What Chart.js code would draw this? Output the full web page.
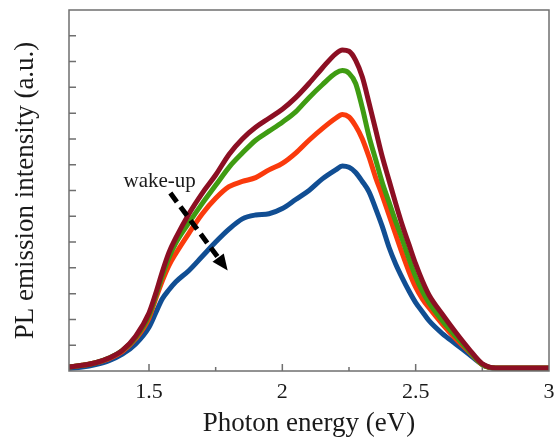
<!DOCTYPE html>
<html>
<head>
<meta charset="utf-8">
<script src="https://cdn.jsdelivr.net/npm/chart.js@4/dist/chart.umd.min.js"></script>
<style>
  html, body { margin: 0; padding: 0; background: #fff; }
  #wrap { width: 555px; height: 437px; }
</style>
</head>
<body>
<div id="wrap"><canvas id="myChart"></canvas></div>
<script>
// photon energy (eV)
var energy = [1.2, 1.25, 1.3, 1.35, 1.4, 1.45, 1.5, 1.525, 1.55, 1.575,
              1.6, 1.65, 1.7, 1.75, 1.8, 1.85, 1.9, 1.95, 2.0,
              2.05, 2.1, 2.15, 2.2, 2.225, 2.25, 2.275, 2.3,
              2.325, 2.35, 2.375, 2.4, 2.425, 2.45, 2.475, 2.5, 2.525, 2.55,
              2.6, 2.65, 2.7, 2.75, 2.8, 2.85, 2.9, 2.95, 3.0];

// PL intensity (a.u.) for each stage
var wine = [0.15, 0.22, 0.32, 0.5, 0.8, 1.35, 2.25, 3.0, 3.85, 4.6,
            5.15, 6.1, 6.9, 7.6, 8.4, 9.0, 9.45, 9.8, 10.15,
            10.6, 11.15, 11.75, 12.3, 12.45, 12.4, 12.05, 11.4,
            10.4, 9.35, 8.3, 7.4, 6.5, 5.65, 4.9, 4.15, 3.5, 2.95,
            2.2, 1.5, 0.85, 0.28, 0.12, 0.12, 0.12, 0.12, 0.12];
var green = [0.15, 0.22, 0.32, 0.5, 0.8, 1.3, 2.15, 2.9, 3.7, 4.4,
             4.95, 5.75, 6.5, 7.2, 7.9, 8.45, 8.95, 9.3, 9.65,
             10.05, 10.6, 11.1, 11.55, 11.65, 11.55, 11.15, 10.2,
             9.1, 8.2, 7.3, 6.55, 5.8, 5.1, 4.35, 3.65, 3.1, 2.65,
             1.95, 1.35, 0.78, 0.25, 0.12, 0.12, 0.12, 0.12, 0.12];
var orange = [0.15, 0.22, 0.32, 0.48, 0.76, 1.25, 2.05, 2.8, 3.5, 4.1,
              4.55, 5.35, 6.1, 6.7, 7.15, 7.35, 7.5, 7.8, 8.05,
              8.45, 8.95, 9.4, 9.8, 9.95, 9.85, 9.5, 9.0,
              8.3, 7.5, 6.8, 6.05, 5.3, 4.55, 3.85, 3.25, 2.8, 2.45,
              1.82, 1.25, 0.75, 0.25, 0.12, 0.12, 0.12, 0.12, 0.12];
var blue = [0.1, 0.15, 0.25, 0.4, 0.65, 1.05, 1.7, 2.25, 2.8, 3.15,
            3.45, 3.9, 4.45, 5.0, 5.5, 5.9, 6.05, 6.1, 6.3,
            6.65, 7.0, 7.45, 7.8, 7.95, 7.9, 7.7, 7.35,
            6.95, 6.3, 5.6, 4.8, 4.15, 3.6, 3.1, 2.65, 2.3, 1.95,
            1.45, 1.05, 0.65, 0.25, 0.1, 0.1, 0.1, 0.1, 0.1];

var xTickValues = [1.5, 2, 2.5, 3];
var xMinorTicks = [1.75, 2.25, 2.75];
var yTickValues = [1, 2, 3, 4, 5, 6, 7, 8, 9, 10, 11, 12, 13];

// wake-up label and arrow (data coords)
var wakeLabel = { x: 1.54, y: 7.35, text: 'wake-up' };
var wakeArrow = { x1: 1.58, y1: 6.9, x2: 1.795, y2: 3.9 };

function toPoints(ys) {
    return energy.map(function(e, i) { return { x: e, y: ys[i] }; });
}

function makeSet(label, ys, color) {
    return {
        label: label,
        data: toPoints(ys),
        borderColor: color,
        backgroundColor: color,
        borderWidth: 5,
        pointRadius: 0,
        cubicInterpolationMode: 'monotone',
        fill: false
    };
}

var framePlugin = {
    id: 'frame',
    afterDatasetsDraw: function(chart) {
        var ctx = chart.ctx;
        var a = chart.chartArea;
        var xs = chart.scales.x;
        var ys = chart.scales.y;
        ctx.save();
        ctx.strokeStyle = '#6f6f6f';
        ctx.lineWidth = 1.5;
        ctx.strokeRect(a.left, a.top, a.right - a.left, a.bottom - a.top);

        // inward ticks
        ctx.beginPath();
        xTickValues.forEach(function(v) {
            var px = xs.getPixelForValue(v);
            if (px < a.right - 1) { ctx.moveTo(px, a.bottom); ctx.lineTo(px, a.bottom - 7); }
        });
        xMinorTicks.forEach(function(v) {
            var px = xs.getPixelForValue(v);
            ctx.moveTo(px, a.bottom); ctx.lineTo(px, a.bottom - 4);
        });
        yTickValues.forEach(function(v) {
            var py = ys.getPixelForValue(v);
            ctx.moveTo(a.left, py); ctx.lineTo(a.left + 7, py);
        });
        ctx.stroke();

        // wake-up annotation
        ctx.fillStyle = '#1a1a1a';
        ctx.font = '21px "Liberation Serif"';
        ctx.textAlign = 'center';
        ctx.textBaseline = 'middle';
        ctx.fillText(wakeLabel.text, xs.getPixelForValue(wakeLabel.x), ys.getPixelForValue(wakeLabel.y));

        var x1 = xs.getPixelForValue(wakeArrow.x1), y1 = ys.getPixelForValue(wakeArrow.y1);
        var x2 = xs.getPixelForValue(wakeArrow.x2), y2 = ys.getPixelForValue(wakeArrow.y2);
        var ang = Math.atan2(y2 - y1, x2 - x1);
        var headLen = 16, headW = 7;
        var bx = x2 - headLen * Math.cos(ang), by = y2 - headLen * Math.sin(ang);
        ctx.strokeStyle = '#000';
        ctx.lineWidth = 5;
        ctx.setLineDash([11, 6]);
        ctx.beginPath();
        ctx.moveTo(x1, y1);
        ctx.lineTo(bx, by);
        ctx.stroke();
        ctx.setLineDash([]);
        ctx.fillStyle = '#000';
        ctx.beginPath();
        ctx.moveTo(x2, y2);
        ctx.lineTo(bx + headW * Math.sin(ang), by - headW * Math.cos(ang));
        ctx.lineTo(bx - headW * Math.sin(ang), by + headW * Math.cos(ang));
        ctx.closePath();
        ctx.fill();
        ctx.restore();
    }
};

var ctx = document.getElementById('myChart');
var myChart = new Chart(ctx, {
    type: 'line',
    data: {
        datasets: [
            makeSet('stage 4', wine, '#8c0f23'),
            makeSet('stage 3', green, '#3f9c12'),
            makeSet('stage 2', orange, '#fa3a0c'),
            makeSet('stage 1', blue, '#114e93')
        ]
    },
    options: {
        responsive: true,
        maintainAspectRatio: false,
        animation: false,
        layout: { padding: { left: 10, right: 6, top: 10, bottom: 0 } },
        plugins: {
            legend: { display: false },
            tooltip: { enabled: false }
        },
        scales: {
            x: {
                type: 'linear',
                min: 1.2,
                max: 3,
                grid: { display: false, drawTicks: false },
                border: { display: false },
                afterBuildTicks: function(scale) {
                    scale.ticks = xTickValues.map(function(v) { return { value: v }; });
                },
                afterFit: function(scale) {
                    scale.height = 66;
                    scale.paddingLeft = 0;
                    scale.paddingRight = 0;
                },
                ticks: {
                    padding: 10,
                    maxRotation: 0,
                    color: '#1a1a1a',
                    font: { family: '"Liberation Serif"', size: 22, lineHeight: 1.0 },
                    callback: function(v) { return String(v); }
                },
                title: {
                    display: true,
                    text: 'Photon energy (eV)',
                    color: '#1a1a1a',
                    padding: { top: 0, bottom: 0 },
                    font: { family: '"Liberation Serif"', size: 27, lineHeight: 1.0 }
                }
            },
            y: {
                type: 'linear',
                min: 0,
                max: 14,
                grid: { display: false, drawTicks: false },
                border: { display: false },
                ticks: { display: false },
                afterFit: function(scale) {
                    scale.width = 59;
                },
                title: {
                    display: true,
                    text: 'PL emission intensity (a.u.)',
                    color: '#1a1a1a',
                    padding: { top: 0, bottom: 0 },
                    font: { family: '"Liberation Serif"', size: 27, lineHeight: 1.2 }
                }
            }
        }
    },
    plugins: [framePlugin]
});
</script>
</body>
</html>
